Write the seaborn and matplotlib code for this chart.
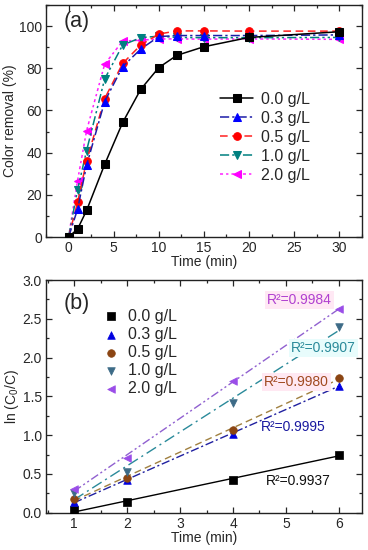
import numpy as np
import pandas as pd
import matplotlib
matplotlib.use("Agg")
import matplotlib.pyplot as plt
import seaborn as sns
from matplotlib.ticker import MultipleLocator

# ---------------- data ----------------
doses = ["0.0 g/L", "0.3 g/L", "0.5 g/L", "1.0 g/L", "2.0 g/L"]

time_a = [0, 1, 2, 4, 6, 8, 10, 12, 15, 20, 30]
removal_00 = [0, 3.8, 12.6, 34.4, 54.3, 70.0, 80.3, 86.1, 90.2, 94.6, 97.3]
removal_03 = [0, 13.2, 34.0, 64.2, 80.8, 89.1, 95.0, 95.5, 95.5, 95.5, 95.8]
removal_05 = [0, 16.4, 36.1, 65.6, 82.3, 91.0, 96.2, 97.7, 97.7, 97.6, 97.6]
removal_10 = [0, 22.4, 41.0, 74.9, 91.0, 94.5, 95.2, 94.6, 94.5, 94.5, 94.6]
removal_20 = [0, 26.8, 50.4, 81.9, 92.9, 93.3, 93.9, 93.9, 93.8, 93.9, 93.7]

time_b = [1, 2, 4, 6]
lnc_00 = [0.03, 0.14, 0.42, 0.75]
lnc_03 = [0.14, 0.42, 1.02, 1.64]
lnc_05 = [0.18, 0.45, 1.07, 1.74]
lnc_10 = [0.25, 0.53, 1.42, 2.40]
lnc_20 = [0.31, 0.70, 1.70, 2.63]

r2_labels = ["R²=0.9937", "R²=0.9995", "R²=0.9980", "R²=0.9907", "R²=0.9984"]
r2_pos = [(5.23, 0.41), (5.13, 1.11), (5.2, 1.69), (5.7, 2.12), (5.26, 2.74)]

# ---------------- style ----------------
sns.set_theme(style="ticks")
plt.rcParams["font.family"] = ["Liberation Sans", "DejaVu Sans"]
plt.rcParams["mathtext.fontset"] = "custom"
plt.rcParams["mathtext.rm"] = "Liberation Sans"
plt.rcParams["mathtext.it"] = "Liberation Sans:italic"
plt.rcParams["axes.linewidth"] = 1.0

fig = plt.figure(figsize=(3.68, 5.5), dpi=100)
ax1 = fig.add_axes([0.125, 0.569, 0.858, 0.422])
ax2 = fig.add_axes([0.125, 0.0678, 0.858, 0.423])

# panel a
df_a = pd.DataFrame({"t": time_a * 5,
                     "v": removal_00 + removal_03 + removal_05 + removal_10 + removal_20,
                     "dose": sum([[d] * len(time_a) for d in doses], [])})
cols_a_line = ["#000000", "#1c1ca8", "#ff2020", "#008080", "#ff20ff"]
cols_a_mark = ["#000000", "#0000ff", "#ff0000", "#008080", "#ff00ff"]
markers_a = ["s", "^", "o", "v", "<"]
dashes_a = [(None, None), (6, 2, 1.5, 2), (5, 3), (6, 2, 1.5, 2, 1.5, 2), (2, 2, 1.5, 2)]
for i, d in enumerate(doses):
    sub = df_a[df_a["dose"] == d]
    ls = "-" if i == 0 else (0, dashes_a[i])
    sns.lineplot(data=sub, x="t", y="v", ax=ax1, color=cols_a_line[i], lw=1.1,
                 linestyle=ls, marker=markers_a[i], markersize=5.5,
                 markerfacecolor=cols_a_mark[i], markeredgecolor=cols_a_mark[i],
                 label=d, zorder=3 + (4 - i))

ax1.set_xlim(-2.5, 32.5)
ax1.set_ylim(0, 110)
ax1.xaxis.set_major_locator(MultipleLocator(5))
ax1.xaxis.set_minor_locator(MultipleLocator(2.5))
ax1.yaxis.set_major_locator(MultipleLocator(20))
ax1.yaxis.set_minor_locator(MultipleLocator(10))
ax1.set_xlabel("Time (min)", fontsize=10, labelpad=0)
ax1.set_ylabel("Color removal (%)", fontsize=10, labelpad=1)
ax1.text(0.055, 0.975, "(a)", transform=ax1.transAxes, fontsize=15.5, va="top", ha="left")
leg1 = ax1.legend(loc="center left", bbox_to_anchor=(0.515, 0.43), frameon=False,
                  fontsize=11.5, handlelength=2.1, handletextpad=0.5, labelspacing=0.25,
                  borderpad=0.2)

# panel b
series_b = [lnc_00, lnc_03, lnc_05, lnc_10, lnc_20]
cols_b_mark = ["#000000", "#0000e0", "#8b4513", "#3d6b87", "#9a4de8"]
cols_b_line = ["#000000", "#2020a0", "#a08040", "#2a8a9a", "#9060d0"]
markers_b = ["s", "^", "o", "v", "<"]
dashes_b = [(None, None), (6, 2, 1.5, 2), (5, 3), (8, 3, 1.5, 3), (6, 2, 1.5, 2, 1.5, 2)]
text_cols = ["#101010", "#1a1aa0", "#a04a20", "#2a8a9a", "#b040d0"]
box_cols = [None, None, "#ffe8f2", "#e8fcfc", "#ffe8f4"]

for i, d in enumerate(doses):
    sub = pd.DataFrame({"t": time_b, "y": series_b[i]})
    ls = "-" if i == 0 else (0, dashes_b[i])
    sns.regplot(data=sub, x="t", y="y", ax=ax2, ci=None, scatter=False, truncate=True,
                line_kws=dict(color=cols_b_line[i], lw=1.0, linestyle=ls, zorder=2))
    sns.scatterplot(data=sub, x="t", y="y", ax=ax2, color=cols_b_mark[i],
                    marker=markers_b[i], s=30, edgecolor=cols_b_mark[i], linewidth=0.5,
                    label=d, zorder=4)

for i, lab in enumerate(r2_labels):
    kw = {}
    if box_cols[i] is not None:
        kw["bbox"] = dict(boxstyle="square,pad=0.15", fc=box_cols[i], ec="none")
    ax2.text(r2_pos[i][0], r2_pos[i][1], lab, color=text_cols[i], fontsize=10,
             ha="center", va="center", zorder=3, **kw)

ax2.set_xlim(0.47, 6.43)
ax2.set_ylim(0, 3.0)
ax2.xaxis.set_major_locator(MultipleLocator(1))
ax2.xaxis.set_minor_locator(MultipleLocator(0.5))
ax2.yaxis.set_major_locator(MultipleLocator(0.5))
ax2.yaxis.set_minor_locator(MultipleLocator(0.25))
ax2.set_xlabel("Time (min)", fontsize=10, labelpad=0)
ax2.set_ylabel("ln (C$_0$/C)", fontsize=10, labelpad=1)
ax2.text(0.055, 0.945, "(b)", transform=ax2.transAxes, fontsize=15.5, va="top", ha="left")
leg2 = ax2.legend(loc="upper left", bbox_to_anchor=(0.145, 0.925), frameon=False,
                  fontsize=11.5, handlelength=1.0, handletextpad=0.55, labelspacing=0.2,
                  borderpad=0.2)

for ax in (ax1, ax2):
    ax.tick_params(which="both", direction="in", top=True, right=True, labelsize=10,
                   width=0.9, pad=3)
    ax.tick_params(which="major", length=4)
    ax.tick_params(which="minor", length=2.5)
    for s in ax.spines.values():
        s.set_linewidth(1.0)
        s.set_color("#222222")

fig.savefig("out.png", dpi=100)
